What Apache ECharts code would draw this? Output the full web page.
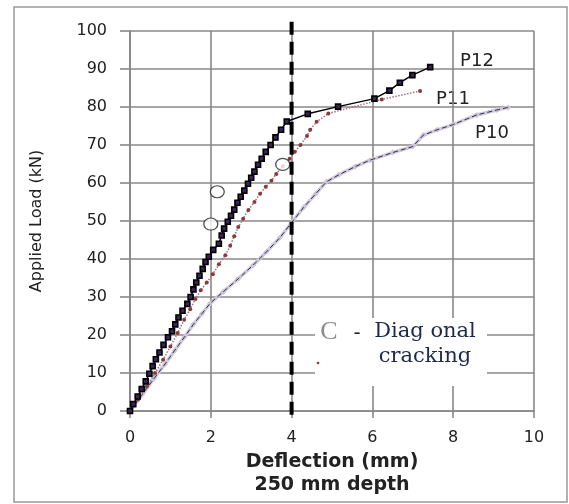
<!DOCTYPE html>
<html>
<head>
<meta charset="utf-8">
<script src="https://cdn.jsdelivr.net/npm/echarts@6.0.0/dist/echarts.min.js"></script>
<style>
  html, body { margin: 0; padding: 0; background: #fff; }
  #chart { width: 569px; height: 504px; }
</style>
</head>
<body>
<div id="chart"></div>
<script>
// deflection (mm) / applied load (kN)
const p12Defl = [0, 0.08, 0.19, 0.29, 0.39, 0.48, 0.56, 0.64, 0.73, 0.83, 0.94, 1.04, 1.12, 1.2, 1.3, 1.42, 1.5, 1.57, 1.64, 1.72, 1.8, 1.87, 1.95, 2.06, 2.2, 2.27, 2.33, 2.42, 2.5, 2.58, 2.66, 2.74, 2.83, 2.92, 3.0, 3.08, 3.17, 3.26, 3.36, 3.48, 3.6, 3.74, 3.88, 4.4, 5.15, 6.05, 6.42, 6.68, 6.99, 7.43];
const p12Load = [0, 1.8, 3.8, 5.8, 7.8, 9.8, 11.8, 13.6, 15.4, 17.4, 19.4, 21, 22.8, 24.6, 26.4, 28.2, 30, 32, 33.8, 35.6, 37.4, 39.2, 40.6, 42.4, 44, 46.2, 48, 49.8, 51.4, 53, 54.8, 56.4, 58, 59.8, 61.4, 63, 64.8, 66.4, 68.2, 70, 72, 74, 76.2, 78.2, 80.1, 82.2, 84.3, 86.4, 88.4, 90.5];

const p11Defl = [0, 0.2, 0.42, 0.62, 0.82, 1.0, 1.18, 1.34, 1.49, 1.62, 1.75, 1.9, 2.05, 2.2, 2.36, 2.48, 2.58, 2.68, 2.8, 2.93, 3.08, 3.22, 3.36, 3.5, 3.62, 3.78, 3.95, 4.08, 4.22, 4.38, 4.46, 4.62, 4.91, 6.23, 7.18];
const p11Load = [0, 3, 6.5, 10, 13.5, 17, 20.5, 24, 26.8, 29.5, 31.8, 33.8, 36, 38.6, 41, 43.5, 46, 48.4, 50.6, 52.9, 55, 57.2, 59, 60.6, 62.4, 64.4, 66.4, 68.2, 70, 72.4, 74, 76.1, 78.3, 82, 84.2];

const p10Defl = [0, 0.3, 0.6, 0.87, 1.11, 1.35, 1.57, 1.78, 1.98, 2.31, 2.68, 3.05, 3.38, 3.71, 4.0, 4.3, 4.6, 4.86, 5.16, 5.57, 5.94, 6.5, 7.0, 7.26, 7.6, 7.98, 8.58, 9.08, 9.36];
const p10Load = [0, 4.3, 8.6, 12.4, 16, 19.5, 22.8, 25.6, 28.3, 31.4, 34.8, 38.4, 41.9, 45.6, 49.6, 53.6, 57.2, 60.3, 62.1, 64.3, 66, 68, 69.6, 72.6, 74, 75.3, 77.9, 79.2, 79.9];

// diagonal cracking marks
const crackDefl = [2.0, 2.16, 3.78];
const crackLoad = [49.2, 57.7, 64.9];

// 250 mm depth limit line
const limitDefl = 4;
const limitLoad = [-1, 102.8];

const xTicks = { min: 0, max: 10, interval: 2 };
const yTicks = { min: 0, max: 100, interval: 10 };

const zip = (xs, ys) => xs.map((x, i) => [x, ys[i]]);

const gridColor = '#888';
const labelFont = 'DejaVu Sans';

const chart = echarts.init(document.getElementById('chart'));

chart.setOption({
  backgroundColor: '#fff',
  animation: false,
  grid: { left: 130, right: 35, top: 31, bottom: 93 },
  xAxis: {
    type: 'value',
    min: xTicks.min, max: xTicks.max, interval: xTicks.interval,
    name: 'Deflection (mm)\n250 mm depth',
    nameLocation: 'middle',
    nameGap: 40,
    nameTextStyle: { color: '#222', fontSize: 19, fontWeight: 'bold', fontFamily: labelFont, lineHeight: 23 },
    axisLine: { show: true, lineStyle: { color: gridColor, width: 1.6 } },
    axisTick: { show: true, length: 7, lineStyle: { color: gridColor, width: 1.6 } },
    splitLine: { show: true, lineStyle: { color: gridColor, width: 1.6 } },
    axisLabel: { color: '#222', fontSize: 16, fontFamily: labelFont, margin: 19 }
  },
  yAxis: {
    type: 'value',
    min: yTicks.min, max: yTicks.max, interval: yTicks.interval,
    name: 'Applied Load (kN)',
    nameLocation: 'middle',
    nameGap: 85,
    nameTextStyle: { color: '#222', fontSize: 16, fontFamily: labelFont },
    axisLine: { show: true, lineStyle: { color: gridColor, width: 1.6 } },
    axisTick: { show: true, length: 10, lineStyle: { color: gridColor, width: 1.6 } },
    splitLine: { show: true, lineStyle: { color: gridColor, width: 1.6 } },
    axisLabel: { color: '#222', fontSize: 16, fontFamily: labelFont, margin: 23 }
  },
  series: [
    {
      name: 'P10',
      type: 'line',
      data: zip(p10Defl, p10Load),
      symbol: 'diamond',
      symbolSize: 6,
      itemStyle: { color: '#cbc3de' },
      lineStyle: { color: '#cfc8e0', width: 3.5 },
      z: 2
    },
    {
      name: 'P10 trace',
      type: 'line',
      data: zip(p10Defl, p10Load),
      showSymbol: false,
      lineStyle: { color: '#333', width: 1, type: [5, 3] },
      z: 3
    },
    {
      name: 'P11',
      type: 'line',
      data: zip(p11Defl, p11Load),
      symbol: 'circle',
      symbolSize: 4,
      itemStyle: { color: '#8b3a3a' },
      lineStyle: { color: '#a07080', width: 1.5, type: 'dotted' },
      z: 4
    },
    {
      name: 'P12',
      type: 'line',
      data: zip(p12Defl, p12Load),
      symbol: 'rect',
      symbolSize: 5,
      itemStyle: { color: '#3a2458', borderColor: '#000', borderWidth: 1.6 },
      lineStyle: { color: '#000', width: 1.5 },
      z: 5
    },
    {
      name: 'Diagonal cracking',
      type: 'scatter',
      data: zip(crackDefl, crackLoad),
      symbol: 'circle',
      symbolSize: [14, 12],
      itemStyle: { color: '#fff', borderColor: '#222', borderWidth: 1.2 },
      z: 6
    },
    {
      name: 'limit',
      type: 'line',
      data: limitLoad.map(v => [limitDefl, v]),
      showSymbol: false,
      clip: false,
      lineStyle: { color: '#000', width: 4, type: [13, 7] },
      z: 7
    }
  ],
  graphic: [
    { type: 'rect', shape: { x: 14, y: 7, width: 553, height: 495 }, style: { fill: 'none', stroke: '#999', lineWidth: 1.5 }, z: 0, silent: true },
    { type: 'text', x: 477, y: 61, style: { text: 'P12', fill: '#222', font: '18px "DejaVu Sans"', align: 'center', verticalAlign: 'middle' } },
    { type: 'text', x: 453, y: 99, style: { text: 'P11', fill: '#222', font: '18px "DejaVu Sans"', align: 'center', verticalAlign: 'middle' } },
    { type: 'text', x: 492, y: 133, style: { text: 'P10', fill: '#222', font: '18px "DejaVu Sans"', align: 'center', verticalAlign: 'middle' } },
    { type: 'rect', shape: { x: 315, y: 318, width: 172, height: 68 }, style: { fill: '#fff' }, z: 10 },
    { type: 'text', x: 329, y: 332, z: 11, style: { text: 'C', fill: '#8a8a8a', font: '26px "Liberation Serif"', align: 'center', verticalAlign: 'middle' } },
    { type: 'text', x: 357, y: 333, z: 11, style: { text: '-', fill: '#222', font: '20px "Liberation Serif"', align: 'center', verticalAlign: 'middle' } },
    { type: 'text', x: 425, y: 332, z: 11, style: { text: 'Diag onal', fill: '#1c2a4a', font: '21px "DejaVu Serif"', align: 'center', verticalAlign: 'middle' } },
    { type: 'text', x: 425, y: 357, z: 11, style: { text: 'cracking', fill: '#1c2a4a', font: '21px "DejaVu Serif"', align: 'center', verticalAlign: 'middle' } },
    { type: 'circle', shape: { cx: 318, cy: 363, r: 1.3 }, style: { fill: '#8b3a3a' }, z: 11 }
  ]
});
</script>
</body>
</html>
